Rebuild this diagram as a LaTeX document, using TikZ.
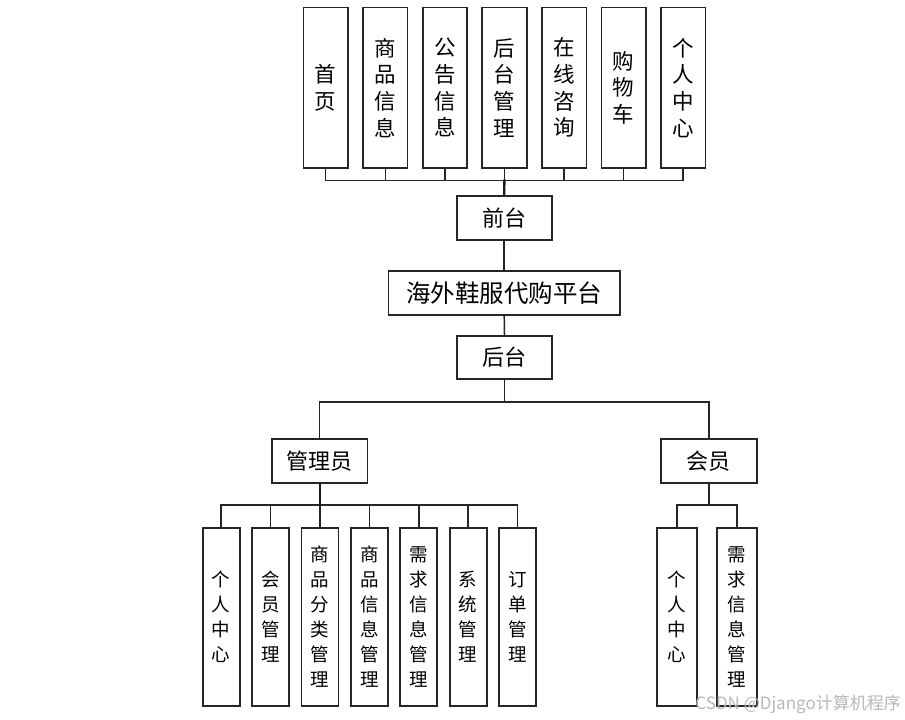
\documentclass[tikz,border=0pt]{standalone}
\usepackage{fontspec}
\newfontfamily\cjk{Noto Sans CJK SC}
\begin{document}
\begin{tikzpicture}[x=1pt,y=-1pt,
  box/.style={draw=black!85,line width=1.7pt,fill=white,inner sep=0pt,align=center},
  topbox/.style={box,minimum width=44.5pt,minimum height=160.7pt,font=\cjk\fontsize{21.5}{26.7}\selectfont},
  botbox/.style={box,minimum width=37pt,minimum height=178.3pt,font=\cjk\fontsize{18.5}{25}\selectfont},
  hbox/.style={box,minimum height=44pt,font=\cjk\fontsize{22}{24}\selectfont},
  link/.style={draw=black!85,line width=1.5pt},
  trunk/.style={draw=black!90,line width=2.2pt}]
\useasboundingbox (0,0) rectangle (905,720);
% top boxes
\node[topbox] (t1) at (325.7,87.7) {首\\页};
\node[topbox] (t2) at (385.3,87.7) {商\\品\\信\\息};
\node[topbox] (t3) at (444.9,87.7) {公\\告\\信\\息};
\node[topbox] (t4) at (504.5,87.7) {后\\台\\管\\理};
\node[topbox] (t5) at (564.1,87.7) {在\\线\\咨\\询};
\node[topbox] (t6) at (623.7,87.7) {购\\物\\车};
\node[topbox] (t7) at (683.2,87.7) {个\\人\\中\\心};
% middle
\node[hbox,minimum width=95pt] (qt) at (504.2,218) {前台};
\node[hbox,minimum width=231.7pt,font=\cjk\fontsize{24.5}{26}\selectfont] (pt) at (504.2,292.8) {海外鞋服代购平台};
\node[hbox,minimum width=95.6pt,minimum height=43pt] (ht) at (504.5,357.2) {后台};
\node[hbox,minimum width=95.3pt] (gl) at (319.7,461.3) {管理员};
\node[hbox,minimum width=95.7pt] (hy) at (708.8,461.3) {会员};
% bottom left
\node[botbox] (b1) at (221.2,616.8) {个\\人\\中\\心};
\node[botbox] (b2) at (270.5,616.8) {会\\员\\管\\理};
\node[botbox] (b3) at (320.0,616.8) {商\\品\\分\\类\\管\\理};
\node[botbox] (b4) at (369.4,616.8) {商\\品\\信\\息\\管\\理};
\node[botbox] (b5) at (418.8,616.8) {需\\求\\信\\息\\管\\理};
\node[botbox] (b6) at (468.2,616.8) {系\\统\\管\\理};
\node[botbox] (b7) at (517.6,616.8) {订\\单\\管\\理};
% bottom right
\node[botbox,minimum width=39.4pt] (r1) at (677.0,616.8) {个\\人\\中\\心};
\node[botbox,minimum width=39.4pt] (r2) at (737.0,616.8) {需\\求\\信\\息\\管\\理};
% connectors top
\foreach \n in {t1,t2,t3,t4,t5,t6,t7}
  \draw[link] (\n.south) -- ++(0,11.6) -| (qt.north);
\draw[trunk] (t4.south |- 0,179.3) -- (qt.north);
\draw[link] (qt.south) -- (pt.north);
\draw[link] (pt.south) -- (ht.north);
\draw[link] (ht.south) -- ++(0,22.5) -| (gl.north);
\draw[link] (ht.south) -- ++(0,22.5) -| (hy.north);
\foreach \n in {b1,b2,b3,b4,b5,b6,b7}
  \draw[link] (\n.north) -- ++(0,-22) -| (gl.south);
\draw[trunk] (gl.south) -- ++(0,22.4);
\foreach \n in {r1,r2}
  \draw[link] (\n.north) -- ++(0,-22) -| (hy.south);
% watermark
\node[text=black!28,font=\cjk\fontsize{17}{19}\selectfont,anchor=east,inner sep=0pt] (wm) at (901,704) {CSDN @Django计算机程序};
\end{tikzpicture}
\end{document}
